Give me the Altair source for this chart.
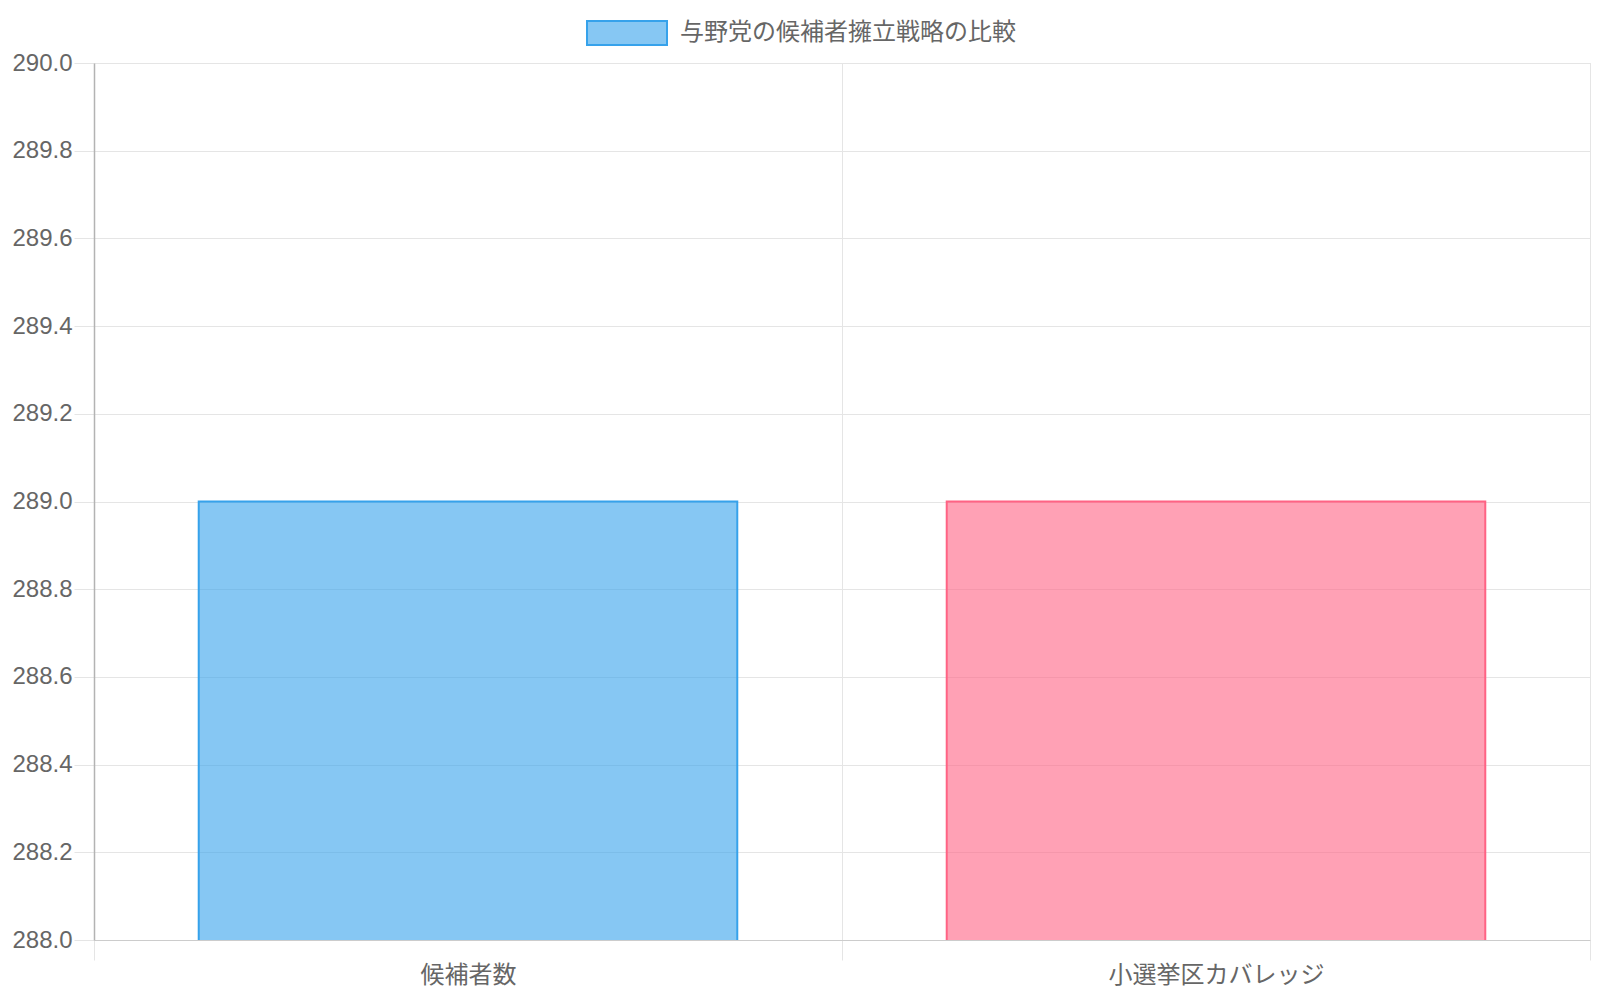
import altair as alt
import pandas as pd

# ---- data ----
categories = ["候補者数", "小選挙区カバレッジ"]
values = [289, 289]
series_name = "与野党の候補者擁立戦略の比較"
y_tick_values = [288.0, 288.2, 288.4, 288.6, 288.8, 289.0, 289.2, 289.4, 289.6, 289.8, 290.0]
y_domain = [288, 290]

# ---- styles ----
bar_fill = ["rgb(54,162,235)", "rgb(255,99,132)"]
bar_stroke = ["#36a2eb", "#ff6384"]
FONT = "Liberation Sans, Arial, Noto Sans CJK JP, sans-serif"
TEXT = "#666666"
GRID = "#e5e5e5"
AXIS_LINE = "#b3b3b3"

df = pd.DataFrame({"category": categories, "value": values, "series": [series_name] * len(categories)})

x_enc = alt.X(
    "category:N",
    sort=categories,
    scale=alt.Scale(paddingInner=0, paddingOuter=0),
    axis=alt.Axis(
        title=None, labelAngle=0, tickBand="extent", grid=True, gridColor=GRID,
        gridWidth=1, tickSize=20, tickColor=GRID, domainColor="#cccccc",
        labelFont=FONT, labelFontSize=24, labelColor=TEXT, labelPadding=3,
        labelLimit=800,
    ),
)
y_enc = alt.Y(
    "value:Q",
    scale=alt.Scale(domain=y_domain, zero=False, nice=False),
    axis=alt.Axis(
        title=None, values=y_tick_values, format=".1f", grid=True, gridColor=GRID,
        tickSize=20, tickColor=GRID, domainColor=AXIS_LINE, domainWidth=1.5,
        labelFont=FONT, labelFontSize=24, labelColor=TEXT, labelPadding=2,
    ),
)

bars = alt.Chart(df).mark_bar(
    width=alt.RelativeBandSize(0.72), fillOpacity=0.6, strokeWidth=2, clip=True
).encode(
    x=x_enc,
    y=y_enc,
    fill=alt.Fill("category:N", scale=alt.Scale(domain=categories, range=bar_fill), legend=None),
    stroke=alt.Stroke("category:N", scale=alt.Scale(domain=categories, range=bar_stroke), legend=None),
)

legend_layer = alt.Chart(df).transform_filter("false").mark_bar(
    stroke="#36a2eb", strokeWidth=2
).encode(
    color=alt.Color(
        "series:N",
        scale=alt.Scale(domain=[series_name], range=["rgba(54,162,235,0.6)"]),
        legend=alt.Legend(
            title=None, orient="none", legendX=492, legendY=-71, padding=0,
            symbolType="M-1,-0.3H1V0.3H-1Z", symbolSize=6400,
            symbolStrokeColor="#36a2eb", symbolStrokeWidth=2,
            symbolFillColor="rgba(54,162,235,0.6)",
            labelFont=FONT, labelFontSize=24, labelColor=TEXT, labelOffset=12,
            labelLimit=600,
        ),
    )
)

chart = alt.layer(bars, legend_layer).properties(
    width=1496,
    height=877,
    autosize=alt.AutoSizeParams(type="none"),
    padding={"left": 86, "top": 55, "right": 2, "bottom": 52},
).configure_view(stroke=None).configure(background="white")

chart.save("out.html", embed_options={"renderer": "svg", "actions": False})
